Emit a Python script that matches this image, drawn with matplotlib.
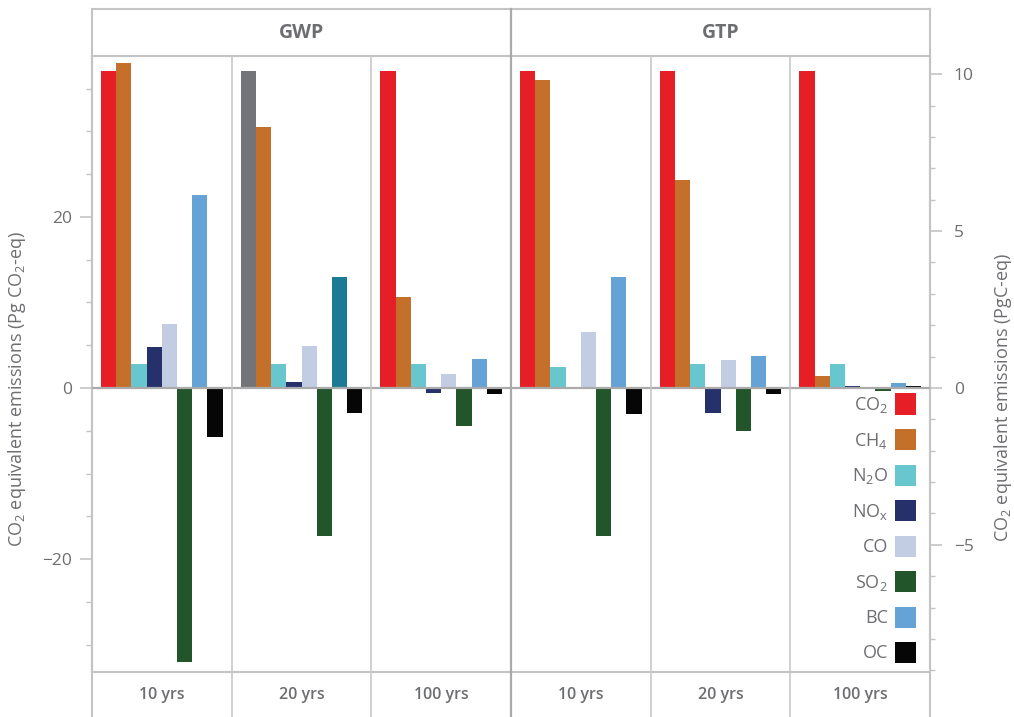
import numpy as np
import matplotlib
matplotlib.use("Agg")
from matplotlib import pyplot as plt
from matplotlib.patches import Patch
from matplotlib.ticker import MultipleLocator

FONT = 'Open Sans'
plt.rcParams['font.family'] = [FONT, 'DejaVu Sans']
plt.rcParams['mathtext.fontset'] = 'custom'
plt.rcParams['mathtext.rm'] = FONT
plt.rcParams['mathtext.it'] = FONT + ':italic'
plt.rcParams['mathtext.bf'] = FONT + ':bold'

# data (Pg CO2-eq)
species = [r'CO$_2$', r'CH$_4$', r'N$_2$O', r'NO$_\mathrm{x}$', 'CO', r'SO$_2$', 'BC', 'OC']
metrics = ['GWP', 'GTP']
horizons = ['10 yrs', '20 yrs', '100 yrs']
gwp10 = [37.0, 38.0, 2.8, 4.8, 7.5, -32.0, 22.6, -5.7]
gwp20 = [37.0, 30.5, 2.8, 0.7, 4.9, -17.3, 13.0, -2.9]
gwp100 = [37.0, 10.6, 2.8, -0.55, 1.6, -4.45, 3.4, -0.67]
gtp10 = [37.0, 36.0, 2.45, 0.0, 6.5, -17.3, 13.0, -3.0]
gtp20 = [37.0, 24.3, 2.8, -2.9, 3.3, -5.0, 3.7, -0.7]
gtp100 = [37.0, 1.4, 2.8, 0.2, 0.0, -0.3, 0.55, 0.2]
panels = [gwp10, gwp20, gwp100, gtp10, gtp20, gtp100]

# styles
colors = ['#e61f26', '#c4702b', '#68c6cf', '#26306a', '#c2cde3', '#23552b', '#65a3d7', '#060606']
# GWP 20 yrs panel uses different shades for CO2 and BC
panel_colors = [list(colors) for _ in panels]
panel_colors[1][0] = '#737479'
panel_colors[1][6] = '#1d7a94'
grey_txt = '#6d6e71'
line_c = '#c4c4c4'
C_TO_CO2 = 44.0 / 12.0

fig = plt.figure(figsize=(10.14, 7.17), dpi=100)
L, R, T, B = 92, 930, 56, 672
ax = fig.add_axes([L / 1014, (717 - B) / 717, (R - L) / 1014, (B - T) / 717])

W = 9.18  # panel width in bar units
off = 1.09
for k, vals in enumerate(panels):
    x = k * W + off + np.arange(len(vals))
    ax.bar(x, vals, width=1.0, color=panel_colors[k], linewidth=0, zorder=2)

ax.set_xlim(0, 6 * W)
ax.axhline(0, color='#aaaaaa', lw=1.6, zorder=3)
ax.set_xticks([])

for s in ax.spines.values():
    s.set_color(line_c)
    s.set_linewidth(1.5)

ax.yaxis.set_major_locator(MultipleLocator(20))
ax.yaxis.set_minor_locator(MultipleLocator(5))
ax.tick_params(axis='y', which='major', length=8.6, width=1.2, color=line_c,
               labelcolor=grey_txt, labelsize=12.5, pad=6)
ax.tick_params(axis='y', which='minor', length=4.3, width=1.0, color=line_c)
ax.set_ylim(-33.2, 38.8)

ax2 = ax.twinx()
ax2.set_ylim(-33.2 / C_TO_CO2, 38.8 / C_TO_CO2)
ax2.yaxis.set_major_locator(MultipleLocator(5))
ax2.yaxis.set_minor_locator(MultipleLocator(1))
ax2.tick_params(axis='y', which='major', length=8.6, width=1.2, color=line_c,
                labelcolor=grey_txt, labelsize=12.5, pad=8.5)
ax2.tick_params(axis='y', which='minor', length=3.6, width=1.0, color=line_c)
for s in ax2.spines.values():
    s.set_visible(False)

# frame lines: header and footer strips
tr = ax.get_xaxis_transform()
y_top = (B - 9) / (B - T)
y_bot = (B - 717) / (B - T)
for xv in [0, 6 * W]:
    ax.plot([xv, xv], [y_bot, y_top], transform=tr, color=line_c, lw=1.5, clip_on=False)
ax.plot([0, 6 * W], [y_top, y_top], transform=tr, color=line_c, lw=1.5, clip_on=False)
ax.plot([3 * W, 3 * W], [y_bot, y_top], transform=tr, color='#aaaaaa', lw=1.6, clip_on=False, zorder=4)
for k in [1, 2, 4, 5]:
    ax.plot([k * W, k * W], [y_bot, 1], transform=tr, color=line_c, lw=1.1, clip_on=False, zorder=4)

y_head = (B - 32.5) / (B - T)
y_foot = (B - 695) / (B - T)
for m, name in enumerate(metrics):
    ax.text((m * 3 + 1.5) * W, y_head, name, transform=tr, ha='center', va='center',
            fontsize=14, fontweight='bold', color=grey_txt)
for k in range(6):
    ax.text((k + 0.5) * W, y_foot, horizons[k % 3], transform=tr, ha='center', va='center',
            fontsize=11.5, fontweight='semibold', color=grey_txt)

fig.text(17 / 1014, 1 - 389 / 717, r'CO$_2$ equivalent emissions (Pg CO$_2$-eq)',
         rotation=90, ha='center', va='center', fontsize=13, color=grey_txt)
fig.text(1003 / 1014, 1 - 397 / 717, r'CO$_2$ equivalent emissions (PgC-eq)',
         rotation=90, ha='center', va='center', fontsize=13, color=grey_txt)

handles = [Patch(facecolor=c, edgecolor='none', label=s) for c, s in zip(colors, species)]
leg = ax.legend(handles=handles, loc='lower right', bbox_to_anchor=(916 / 1014, (717 - 663) / 717),
                bbox_transform=fig.transFigure, frameon=False, markerfirst=False,
                fontsize=13, handlelength=1.16, handleheight=1.42, labelspacing=0.78,
                handletextpad=0.4, borderpad=0, borderaxespad=0)
for t in leg.get_texts():
    t.set_color(grey_txt)

plt.savefig('out.png', dpi=100)
